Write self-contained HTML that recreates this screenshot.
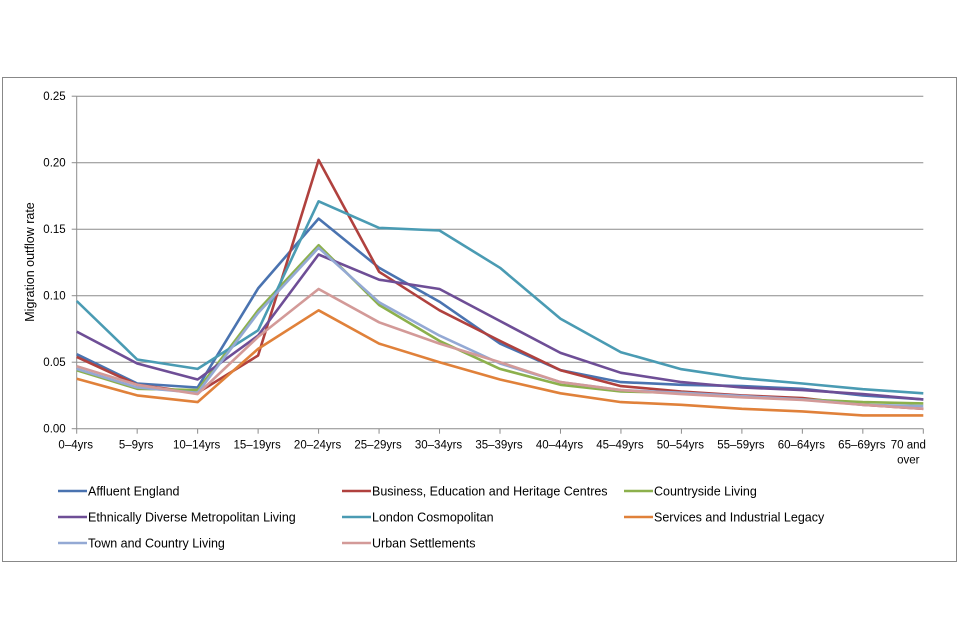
<!DOCTYPE html>
<html><head><meta charset="utf-8"><style>
html,body{margin:0;padding:0;background:#fff;}
svg{display:block;font-family:"Liberation Sans",sans-serif;}
</style></head><body>
<svg id="chart" width="960" height="640">
<rect x="2.5" y="77.5" width="954" height="484" fill="#fff" stroke="#888"/>
<g id="grid"></g><g id="axes"></g><g id="series"></g><g id="legend"></g>
<text transform="translate(34,262) rotate(-90)" text-anchor="middle" font-size="12.5" fill="#000">Migration outflow rate</text>
</svg>
<script>
const categories=["0–4yrs","5–9yrs","10–14yrs","15–19yrs","20–24yrs","25–29yrs","30–34yrs","35–39yrs","40–44yrs","45–49yrs","50–54yrs","55–59yrs","60–64yrs","65–69yrs","70 and over"];
const yTicks=[0,0.05,0.10,0.15,0.20,0.25];
const seriesNames=["Affluent England","Business, Education and Heritage Centres","Countryside Living","Ethnically Diverse Metropolitan Living","London Cosmopolitan","Services and Industrial Legacy","Town and Country Living","Urban Settlements"];
const seriesColors=["#4a73b0","#b0413e","#8cb04c","#6e4e96","#4a9bb3","#e0813a","#94a9d4","#d39a98"];
const affluent=[0.056,0.034,0.031,0.1055,0.158,0.121,0.0955,0.064,0.044,0.035,0.033,0.032,0.030,0.025,0.022];
const business=[0.054,0.033,0.027,0.055,0.202,0.118,0.089,0.066,0.044,0.032,0.028,0.025,0.023,0.018,0.015];
const countryside=[0.044,0.030,0.029,0.089,0.138,0.093,0.066,0.045,0.033,0.028,0.027,0.024,0.022,0.020,0.019];
const ethnic=[0.073,0.049,0.037,0.070,0.131,0.112,0.105,0.081,0.057,0.042,0.035,0.031,0.029,0.026,0.022];
const london=[0.096,0.052,0.045,0.074,0.171,0.151,0.149,0.121,0.0827,0.0575,0.0447,0.038,0.034,0.0297,0.0266];
const services=[0.0376,0.025,0.020,0.060,0.089,0.064,0.050,0.037,0.0266,0.020,0.018,0.015,0.013,0.010,0.010];
const town=[0.045,0.031,0.027,0.087,0.136,0.095,0.070,0.049,0.035,0.029,0.027,0.0245,0.022,0.018,0.017];
const urban=[0.047,0.033,0.026,0.069,0.105,0.080,0.064,0.050,0.035,0.029,0.026,0.0236,0.0216,0.018,0.015];
const seriesData=[affluent,business,countryside,ethnic,london,services,town,urban];
const NS="http://www.w3.org/2000/svg";
const X0=76.7,X1=923.3,Y0=428.7,YTOP=96.2,VMAX=0.25;
function xPos(i){return X0+(X1-X0)*i/(categories.length-1);}
function yPos(v){return Y0-(Y0-YTOP)*v/VMAX;}
function mk(tag,attrs,parent){const e=document.createElementNS(NS,tag);for(const k in attrs)e.setAttribute(k,attrs[k]);parent.appendChild(e);return e;}
const grid=document.getElementById('grid'),axes=document.getElementById('axes'),ser=document.getElementById('series'),leg=document.getElementById('legend');
yTicks.forEach(t=>{
  if(t>0){const g=mk('line',{x1:X0,x2:X1,y1:yPos(t),y2:yPos(t),stroke:'#8c8c8c','stroke-width':1},grid);
  
  }
  const tk=mk('line',{x1:X0-5,x2:X0,y1:yPos(t),y2:yPos(t),stroke:'#8c8c8c'},axes);
  
  
  const lb=mk('text',{x:X0-11,y:yPos(t)+4,'text-anchor':'end','font-size':'11.5',fill:'#000'},axes);
  lb.textContent=t.toFixed(2);
  
  
});
const ya=mk('line',{x1:X0,x2:X0,y1:YTOP,y2:Y0,stroke:'#8c8c8c'},axes);


const xa=mk('line',{x1:X0,x2:X1,y1:Y0,y2:Y0,stroke:'#8c8c8c'},axes);


categories.forEach((c,i)=>{
  const tk=mk('line',{x1:xPos(i),x2:xPos(i),y1:Y0,y2:Y0+5,stroke:'#8c8c8c'},axes);
  
  
  if(i===categories.length-1){
    const lb=mk('text',{x:xPos(i)-15,y:Y0+20,'text-anchor':'middle','font-size':'11.5',fill:'#000'},axes);
    lb.innerHTML='<tspan x="'+(xPos(i)-15)+'">70 and</tspan><tspan x="'+(xPos(i)-15)+'" dy="15">over</tspan>';
    
    
  } else {
    const lb=mk('text',{x:xPos(i)-1,y:Y0+20,'text-anchor':'middle','font-size':'11.5',fill:'#000'},axes);
    lb.textContent=c;
    
    
  }
});
seriesData.forEach((d,s)=>{
  const pts=d.map((v,i)=>xPos(i).toFixed(1)+','+yPos(v).toFixed(1)).join(' ');
  const pl=mk('polyline',{points:pts,fill:'none',stroke:seriesColors[s],'stroke-width':2.6,'stroke-linejoin':'round'},ser);
  
  
});
const legX=[58,342,624],legY=[491,517,543];
seriesNames.forEach((n,s)=>{
  const lx=legX[s%3],ly=legY[Math.floor(s/3)];
  const g=mk('g',{},leg);
  
  
  mk('line',{x1:lx,x2:lx+29,y1:ly,y2:ly,stroke:seriesColors[s],'stroke-width':2.6},g);
  const t=mk('text',{x:lx+30,y:ly+4.5,'font-size':'12.5',fill:'#000'},g);
  t.textContent=n;
});
</script>
</body></html>
